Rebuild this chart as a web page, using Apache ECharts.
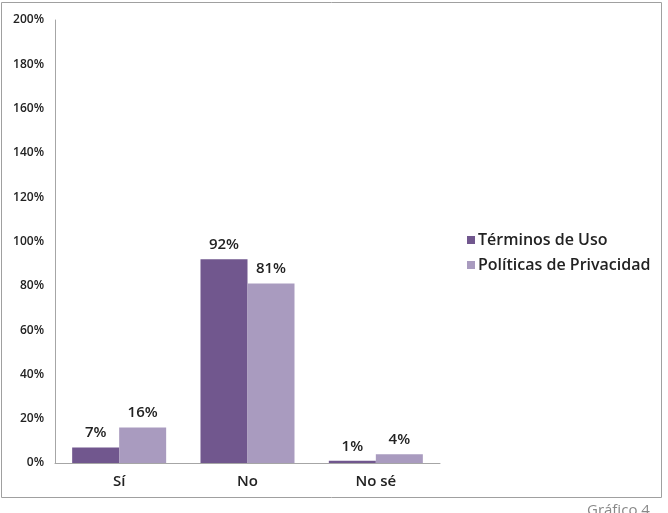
<!DOCTYPE html>
<html>
<head>
<meta charset="utf-8">
<script src="https://cdn.jsdelivr.net/npm/echarts@6/dist/echarts.min.js"></script>
<style>html,body{margin:0;padding:0;background:#fff}#c{width:668px;height:513px}</style>
</head>
<body>
<div id="c"></div>
<script>
var categories = ['Sí', 'No', 'No sé'];
var terminosUso = [7, 92, 1];
var politicasPrivacidad = [16, 81, 4];
var seriesNames = ['Términos de Uso', 'Políticas de Privacidad'];

var FONT = '"Open Sans", sans-serif';
var chart = echarts.init(document.getElementById('c'), null, {renderer: 'canvas'});
var labelStyle = {show: true, position: 'top', formatter: '{c}%', color: '#222', fontFamily: FONT, fontSize: 15, fontWeight: 600, distance: 7};
chart.setOption({
  animation: false,
  grid: {left: 55, right: 228, top: 20, bottom: 50},
  legend: {
    orient: 'vertical', left: 462, top: 227, itemWidth: 8, itemHeight: 8, itemGap: 9,
    icon: 'rect',
    textStyle: {fontFamily: FONT, fontSize: 16, fontWeight: 600, color: '#222', padding: [0, 0, 0, -2]},
    data: seriesNames
  },
  xAxis: {
    type: 'category', data: categories,
    axisLine: {lineStyle: {color: '#a6a6a6', width: 1}},
    axisTick: {show: false},
    axisLabel: {fontFamily: FONT, fontSize: 15, fontWeight: 600, color: '#222', margin: 11}
  },
  yAxis: {
    type: 'value', min: 0, max: 200, interval: 20,
    axisLine: {show: true, lineStyle: {color: '#a6a6a6', width: 1}},
    axisTick: {show: false},
    splitLine: {show: false},
    axisLabel: {formatter: '{value}%', fontFamily: FONT, fontSize: 12, fontWeight: 600, color: '#222', margin: 11}
  },
  series: [
    {name: seriesNames[0], type: 'bar', data: terminosUso, barWidth: 47, barGap: '0%',
     itemStyle: {color: '#71578e'}, label: labelStyle},
    {name: seriesNames[1], type: 'bar', data: politicasPrivacidad, barWidth: 47,
     itemStyle: {color: '#a99bbf'}, label: labelStyle}
  ],
  graphic: [
    {type: 'rect', shape: {x: 1.5, y: 2.5, width: 660, height: 495}, style: {fill: 'none', stroke: '#a0a0a0', lineWidth: 1}, silent: true},
    {type: 'text', left: 587, top: 503, style: {text: 'Gráfico 4', fontFamily: FONT, fontSize: 15, fontWeight: 400, fill: '#888'}}
  ]
});
</script>
</body>
</html>
